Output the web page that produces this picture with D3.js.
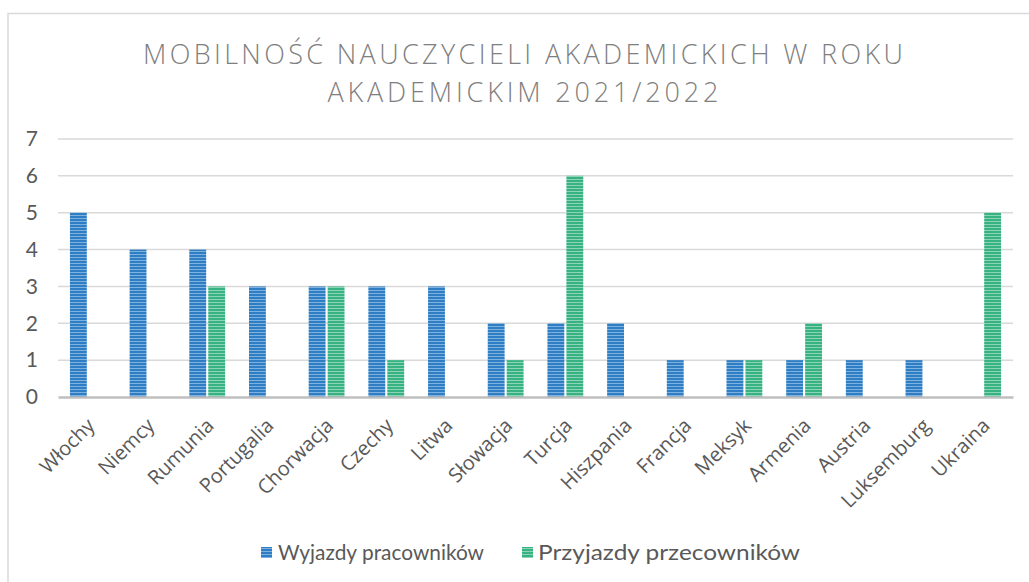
<!DOCTYPE html>
<html>
<head>
<meta charset="utf-8">
<script src="https://cdn.jsdelivr.net/npm/d3@7"></script>
<style>
  html, body { margin: 0; padding: 0; background: #fff; }
  svg { display: block; }
</style>
</head>
<body>
<svg id="chart" width="1029" height="582"></svg>
<script>
// Categories (countries) and the two series
const countries = ["Włochy", "Niemcy", "Rumunia", "Portugalia", "Chorwacja", "Czechy", "Litwa",
  "Słowacja", "Turcja", "Hiszpania", "Francja", "Meksyk", "Armenia", "Austria", "Luksemburg", "Ukraina"];
const wyjazdy   = [5, 4, 4, 3, 3, 3, 3, 2, 2, 2, 1, 1, 1, 1, 1, 0];
const przyjazdy = [0, 0, 3, 0, 3, 1, 0, 1, 6, 0, 0, 1, 2, 0, 0, 5];
const seriesNames = ["Wyjazdy pracowników", "Przyjazdy przecowników"];
const yTicks = [0, 1, 2, 3, 4, 5, 6, 7];
const titleLines = ["MOBILNOŚĆ NAUCZYCIELI AKADEMICKICH W ROKU", "AKADEMICKIM 2021/2022"];

const svg = d3.select("#chart");
const W = 1029, H = 582;
const plot = { left: 58, right: 1013, top: 139, bottom: 397 };

// Striped fills for the bars
const defs = svg.append("defs");
const fills = [
  { id: "stripeBlue", dark: "#2f7dc3", light: "#7db2e0" },
  { id: "stripeGreen", dark: "#37b283", light: "#8dd4b7" }
];
fills.forEach(f => {
  const p = defs.append("pattern").attr("id", f.id)
    .attr("patternUnits", "userSpaceOnUse").attr("width", 4).attr("height", 3);
  p.append("rect").attr("width", 4).attr("height", 3).attr("fill", f.light);
  p.append("rect").attr("width", 4).attr("height", 2).attr("fill", f.dark);
});

// Chart frame
svg.append("path").attr("d", `M8,${H} V13.5 H${W}`)
  .attr("fill", "none").attr("stroke", "#d9d9d9").attr("stroke-width", 1.5);

// Title
svg.selectAll("text.title").data(titleLines).enter().append("text")
  .attr("class", "title")
  .attr("x", 523).attr("y", (d, i) => 64 + i * 38)
  .attr("text-anchor", "middle")
  .attr("font-family", "'Open Sans', Lato, sans-serif")
  .attr("font-weight", 300)
  .attr("font-size", 27)
  .attr("fill", "#7f7f7f")
  .attr("textLength", (d, i) => i === 0 ? 760 : 391)
  .attr("lengthAdjust", "spacing")
  .text(d => d);

// Scales
const x0 = d3.scaleBand().domain(countries).range([plot.left, plot.right])
  .paddingInner(0.4).paddingOuter(0.2);
const x1 = d3.scaleBand().domain([0, 1]).range([0, x0.bandwidth()]).paddingInner(0.11);
const y = d3.scaleLinear().domain([0, 7]).range([plot.bottom, plot.top]);

// Gridlines
svg.append("g").selectAll("line").data(yTicks.filter(t => t > 0)).enter().append("line")
  .attr("x1", plot.left).attr("x2", plot.right)
  .attr("y1", d => y(d)).attr("y2", d => y(d))
  .attr("stroke", "#d9d9d9").attr("stroke-width", 1.5);

// Y axis labels
const yAxis = svg.append("g").attr("transform", `translate(${plot.left},0)`)
  .call(d3.axisLeft(y).tickValues(yTicks).tickSize(0).tickPadding(20).tickFormat(d3.format("d")));
yAxis.select(".domain").remove();
yAxis.selectAll("text")
  .attr("font-family", "Lato, 'DejaVu Sans', sans-serif")
  .attr("font-size", 21).attr("fill", "#595959");

// Bars
const rows = countries.map((c, i) => ({ c, v: [wyjazdy[i], przyjazdy[i]] }));
const groups = svg.append("g").selectAll("g").data(rows).enter().append("g")
  .attr("transform", d => `translate(${x0(d.c)},0)`);
groups.selectAll("rect").data(d => d.v.map((v, k) => ({ v, k }))).enter().append("rect")
  .attr("x", d => x1(d.k))
  .attr("width", x1.bandwidth())
  .attr("y", d => y(d.v))
  .attr("height", d => y(0) - y(d.v))
  .attr("fill", d => `url(#${fills[d.k].id})`);

// X axis
const xAxis = svg.append("g").attr("transform", `translate(0,${plot.bottom})`)
  .call(d3.axisBottom(x0).tickSize(0).tickPadding(0));
xAxis.select(".domain").attr("stroke", "#bfbfbf").attr("stroke-width", 2.5);
xAxis.selectAll("text")
  .attr("font-family", "'Open Sans', sans-serif")
  .attr("font-size", 20).attr("fill", "#595959")
  .attr("text-anchor", "end")
  .attr("dy", null).attr("y", 0)
  .attr("transform", "translate(8,30) rotate(-45)");

// Legend
const legend = svg.append("g");
const legendItems = [{ x: 261, tx: 278, w: 206 }, { x: 522, tx: 538, w: 262 }];
legendItems.forEach((li, k) => {
  legend.append("rect").attr("x", li.x).attr("y", 547).attr("width", 11).attr("height", 11)
    .attr("fill", `url(#${fills[k].id})`);
  legend.append("text").attr("x", li.tx).attr("y", 560)
    .attr("font-family", "Lato, 'DejaVu Sans', sans-serif")
    .attr("font-size", 21).attr("fill", "#595959")
    .attr("textLength", li.w).attr("lengthAdjust", "spacingAndGlyphs")
    .text(seriesNames[k]);
});
</script>
</body>
</html>
